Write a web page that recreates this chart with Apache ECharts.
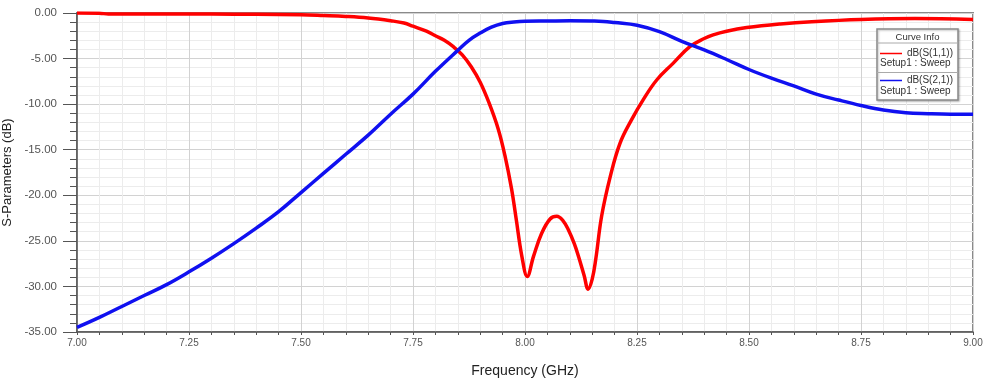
<!DOCTYPE html>
<html>
<head>
<meta charset="utf-8">
<script src="https://cdn.jsdelivr.net/npm/echarts@6/dist/echarts.min.js"></script>
<style>
html,body{margin:0;padding:0;background:#fff;}
#c{width:985px;height:383px;}
</style>
</head>
<body>
<div id="c"></div>
<script>
// ---- data ----
const freqS11 = [7.00,7.05,7.07,7.10,7.20,7.30,7.40,7.50,7.55,7.60,7.65,7.70,7.73,7.75,7.78,7.80,7.82,7.84,7.86,7.88,7.90,7.92,7.94,7.955,7.97,7.98,7.993,8.005,8.019,8.037,8.056,8.071,8.085,8.097,8.11,8.12,8.132,8.141,8.15,8.158,8.171,8.19,8.212,8.238,8.264,8.294,8.331,8.368,8.40,8.42,8.45,8.495,8.57,8.64,8.75,8.87,9.00];
const s11 = [0.0,-0.02,-0.12,-0.12,-0.12,-0.12,-0.14,-0.2,-0.28,-0.38,-0.55,-0.85,-1.1,-1.45,-2.0,-2.5,-3.0,-3.7,-4.6,-5.9,-7.6,-9.9,-12.7,-15.6,-19.3,-22.5,-26.7,-28.9,-26.7,-24.2,-22.6,-22.3,-22.8,-23.8,-25.3,-26.8,-28.8,-30.3,-29.2,-27.0,-22.3,-18.0,-14.3,-11.7,-9.5,-7.35,-5.5,-3.7,-2.8,-2.4,-2.0,-1.6,-1.2,-0.95,-0.7,-0.6,-0.7];

const freqS21 = [7.00,7.05,7.10,7.15,7.20,7.25,7.30,7.35,7.40,7.45,7.50,7.55,7.60,7.65,7.70,7.75,7.80,7.85,7.875,7.90,7.925,7.95,7.975,8.00,8.05,8.10,8.15,8.175,8.20,8.25,8.30,8.35,8.40,8.45,8.50,8.55,8.60,8.65,8.70,8.75,8.80,8.85,8.90,8.95,9.00];
const s21 = [-34.5,-33.4,-32.2,-31.0,-29.8,-28.4,-26.9,-25.3,-23.6,-21.8,-19.7,-17.6,-15.5,-13.4,-11.1,-8.9,-6.4,-4.1,-3.0,-2.2,-1.55,-1.15,-0.98,-0.9,-0.88,-0.86,-0.88,-0.92,-1.05,-1.35,-2.05,-3.1,-4.05,-5.1,-6.2,-7.15,-8.0,-8.9,-9.55,-10.15,-10.65,-10.95,-11.05,-11.1,-11.1];

const seriesNames = ['dB(S(1,1))','dB(S(2,1))'];
const sweepLabel = 'Setup1 : Sweep';
const legendTitle = 'Curve Info';
const xAxisName = 'Frequency (GHz)';
const yAxisName = 'S-Parameters (dB)';

const pairs = (xs, ys) => xs.map((x, i) => [x, ys[i]]);
const FONT = '"Liberation Sans", Arial, sans-serif';
const RED = '#ff0000', BLUE = '#1010f0';

const chart = echarts.init(document.getElementById('c'), null, {renderer:'canvas'});
chart.setOption({
  animation: false,
  backgroundColor: '#ffffff',
  grid: {left: 77, right: 12, top: 13, bottom: 51, containLabel: false, outerBoundsMode: 'none',
         show: true, borderColor: '#8a8a8a', borderWidth: 2, backgroundColor: 'transparent'},
  xAxis: {
    type: 'value', min: 7, max: 9, interval: 0.25,
    name: xAxisName, nameLocation: 'middle', nameGap: 32,
    nameTextStyle: {fontFamily: FONT, fontSize: 14, color: '#222'},
    axisLine: {show: true, onZero: false, lineStyle: {color: '#555', width: 1.5}},
    axisTick: {show: true, length: 3, lineStyle: {color: '#555'}},
    minorTick: {show: true, splitNumber: 5, length: 3, lineStyle: {color: '#555'}},
    axisLabel: {fontFamily: FONT, fontSize: 10, color: '#555', margin: 6, formatter: v => v.toFixed(2)},
    splitLine: {show: true, lineStyle: {color: '#d2d2d2', width: 1}},
    minorSplitLine: {show: true, lineStyle: {color: '#ececec', width: 1}}
  },
  yAxis: {
    type: 'value', min: -35, max: 0, interval: 5,
    name: yAxisName, nameLocation: 'middle', nameGap: 62, nameRotate: 90,
    nameTextStyle: {fontFamily: FONT, fontSize: 13, color: '#222'},
    axisLine: {show: true, onZero: false, lineStyle: {color: '#555', width: 1.5}},
    axisTick: {show: true, length: 14, lineStyle: {color: '#555'}},
    minorTick: {show: true, splitNumber: 5, length: 7, lineStyle: {color: '#555'}},
    axisLabel: {fontFamily: FONT, fontSize: 11.5, color: '#555', margin: 20, formatter: v => v.toFixed(2)},
    splitLine: {show: true, lineStyle: {color: '#d2d2d2', width: 1}},
    minorSplitLine: {show: true, lineStyle: {color: '#ececec', width: 1}}
  },
  series: [
    {name: seriesNames[0], type: 'line', data: pairs(freqS11, s11), smooth: 0.4, showSymbol: false,
     lineStyle: {color: RED, width: 3.5}, z: 3},
    {name: seriesNames[1], type: 'line', data: pairs(freqS21, s21), smooth: 0.4, showSymbol: false,
     lineStyle: {color: BLUE, width: 3.5}, z: 4}
  ],
  graphic: [
    {type: 'rect', z: 100, shape: {x: 877, y: 29, width: 81, height: 71},
     style: {fill: '#ffffff', stroke: '#8a8a8a', lineWidth: 1.5, shadowBlur: 2, shadowColor: 'rgba(0,0,0,0.25)', shadowOffsetX: 1, shadowOffsetY: 1}},
    {type: 'text', z: 101, style: {text: legendTitle, x: 917.5, y: 37, align: 'center', verticalAlign: 'middle', fontFamily: FONT, fontSize: 9.5, fill: '#333'}},
    {type: 'line', z: 101, shape: {x1: 877, y1: 43, x2: 958, y2: 43}, style: {stroke: '#aaa', lineWidth: 1}},
    {type: 'line', z: 101, shape: {x1: 880, y1: 53.5, x2: 902, y2: 53.5}, style: {stroke: RED, lineWidth: 1.5}},
    {type: 'text', z: 101, style: {text: seriesNames[0], x: 953, y: 53, align: 'right', verticalAlign: 'middle', fontFamily: FONT, fontSize: 10, fill: '#333'}},
    {type: 'text', z: 101, style: {text: sweepLabel, x: 880, y: 63.5, align: 'left', verticalAlign: 'middle', fontFamily: FONT, fontSize: 10, fill: '#333'}},
    {type: 'line', z: 101, shape: {x1: 877, y1: 72.5, x2: 958, y2: 72.5}, style: {stroke: '#aaa', lineWidth: 1}},
    {type: 'line', z: 101, shape: {x1: 880, y1: 80.5, x2: 902, y2: 80.5}, style: {stroke: BLUE, lineWidth: 1.5}},
    {type: 'text', z: 101, style: {text: seriesNames[1], x: 953, y: 80, align: 'right', verticalAlign: 'middle', fontFamily: FONT, fontSize: 10, fill: '#333'}},
    {type: 'text', z: 101, style: {text: sweepLabel, x: 880, y: 91, align: 'left', verticalAlign: 'middle', fontFamily: FONT, fontSize: 10, fill: '#333'}}
  ]
});
</script>
</body>
</html>
